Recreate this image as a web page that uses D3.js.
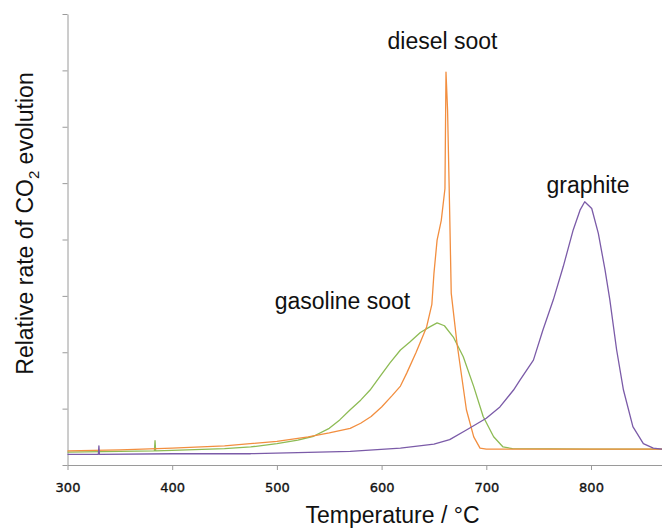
<!DOCTYPE html>
<html>
<head>
<meta charset="utf-8">
<script src="https://cdn.jsdelivr.net/npm/d3@7"></script>
<style>
  body { margin: 0; background: #fff; }
  text { font-family: "Liberation Sans", Arial, sans-serif; }
  .axis_text { font-family: "DejaVu Sans", sans-serif; font-size: 13px; fill: #111; stroke: #111; stroke-width: 0.35px; }
</style>
</head>
<body>
<figure id="chart" style="margin:0"></figure>
<script>
// temperatures (°C) and relative CO2 rates
const dieselT = [300, 350, 400, 450, 500, 530, 550, 570, 580, 590, 600, 610, 618, 624, 633, 643, 648, 650, 653, 657, 660.5, 661.5, 663, 665, 666.5, 672, 676.5, 681, 688, 694, 700, 750, 800, 868];
const dieselV = [0.25, 0.27, 0.3, 0.34, 0.42, 0.5, 0.57, 0.65, 0.74, 0.86, 1.03, 1.23, 1.4, 1.63, 2.0, 2.45, 2.85, 3.4, 3.99, 4.34, 4.9, 6.97, 6.3, 4.5, 3.05, 2.16, 1.57, 0.98, 0.5, 0.3, 0.28, 0.28, 0.28, 0.28];

const gasolineT = [300, 350, 383, 383.6, 384.2, 400, 450, 475, 500, 520, 535, 550, 560, 570, 580, 589, 598, 608, 618, 627, 637, 646, 653, 660, 668.5, 678, 688, 697, 707, 716, 725, 800, 868];
const gasolineV = [0.23, 0.24, 0.25, 0.43, 0.25, 0.26, 0.29, 0.32, 0.38, 0.44, 0.51, 0.65, 0.8, 0.98, 1.15, 1.33, 1.56, 1.81, 2.04, 2.18, 2.35, 2.45, 2.52, 2.47, 2.27, 1.92, 1.39, 0.86, 0.5, 0.32, 0.29, 0.28, 0.28];

const graphiteT = [300, 329.5, 330, 330.5, 400, 475, 520, 570, 618, 650, 665, 681, 700, 713, 726, 732, 745, 754, 764, 773.5, 783, 789.5, 794, 800.7, 807, 813.4, 818, 824.5, 831, 840, 850, 859.5, 868];
const graphiteV = [0.19, 0.19, 0.34, 0.19, 0.2, 0.2, 0.22, 0.24, 0.3, 0.37, 0.45, 0.62, 0.83, 1.03, 1.33, 1.5, 1.86, 2.39, 2.93, 3.52, 4.17, 4.52, 4.67, 4.55, 4.11, 3.46, 2.93, 2.04, 1.33, 0.68, 0.38, 0.3, 0.28];

const xTicks = [300, 400, 500, 600, 700, 800];
const yTicks = [0, 1, 2, 3, 4, 5, 6, 7, 8];

const dimensions = {
  width: 662,
  height: 529,
  margin: { top: 14, right: 0, bottom: 64, left: 67.5 },
};
dimensions.boundedWidth = dimensions.width - dimensions.margin.left - dimensions.margin.right;
dimensions.boundedHeight = dimensions.height - dimensions.margin.top - dimensions.margin.bottom;

const root = d3.select('figure#chart')
  .append('svg')
  .attr('width', dimensions.width)
  .attr('height', dimensions.height);

const svg = root.append('g')
  .attr('transform', `translate(${dimensions.margin.left}, ${dimensions.margin.top})`);

const xScale = d3.scaleLinear()
  .domain([300, 300 + dimensions.boundedWidth / 1.047])
  .range([0, dimensions.boundedWidth]);

const yScale = d3.scaleLinear()
  .domain([0, 8])
  .range([dimensions.boundedHeight, 0]);

// axes
const xAxis = svg.append('g')
  .attr('transform', `translate(0,${dimensions.boundedHeight})`)
  .call(d3.axisBottom(xScale).tickValues(xTicks).tickSize(5).tickPadding(13).tickSizeOuter(0));
xAxis.selectAll('text').attr('class', 'axis_text').attr('font-family', null).attr('font-size', null);

const yAxis = svg.append('g')
  .call(d3.axisLeft(yScale).tickValues(yTicks).tickSize(5).tickFormat('').tickSizeOuter(0));

svg.selectAll('.domain, .tick line').attr('stroke', '#9a9a9a');

// curves
const series = [
  { t: gasolineT, v: gasolineV, color: '#8dbb54' },
  { t: dieselT, v: dieselV, color: '#f28e3f' },
  { t: graphiteT, v: graphiteV, color: '#7b5ba8' },
];

const line = d3.line()
  .x(d => xScale(d[0]))
  .y(d => yScale(d[1]));

svg.selectAll('path.curve')
  .data(series)
  .enter()
  .append('path')
  .attr('class', 'curve')
  .attr('fill', 'none')
  .attr('stroke', d => d.color)
  .attr('stroke-width', 1.3)
  .attr('stroke-linejoin', 'round')
  .attr('d', d => line(d.t.map((t, i) => [t, d.v[i]])));

// curve labels
const labels = [
  { text: 'diesel soot', x: 442.5, y: 49 },
  { text: 'graphite', x: 588, y: 192.5 },
  { text: 'gasoline soot', x: 342.5, y: 309 },
];
root.selectAll('text.label')
  .data(labels)
  .enter()
  .append('text')
  .attr('class', 'label')
  .attr('x', d => d.x)
  .attr('y', d => d.y)
  .attr('text-anchor', 'middle')
  .attr('font-size', 23)
  .attr('fill', '#111')
  .text(d => d.text);

// axis titles
root.append('text')
  .attr('x', 392.5)
  .attr('y', 523)
  .attr('text-anchor', 'middle')
  .attr('font-size', 23)
  .attr('fill', '#111')
  .text('Temperature / °C');

const yTitle = root.append('text')
  .attr('transform', 'translate(33,223.5) rotate(-90)')
  .attr('text-anchor', 'middle')
  .attr('font-size', 23)
  .attr('fill', '#111');
yTitle.append('tspan').text('Relative rate of CO');
yTitle.append('tspan').attr('font-size', 15).attr('dy', 6).text('2');
yTitle.append('tspan').attr('dy', -6).text(' evolution');
</script>
</body>
</html>
